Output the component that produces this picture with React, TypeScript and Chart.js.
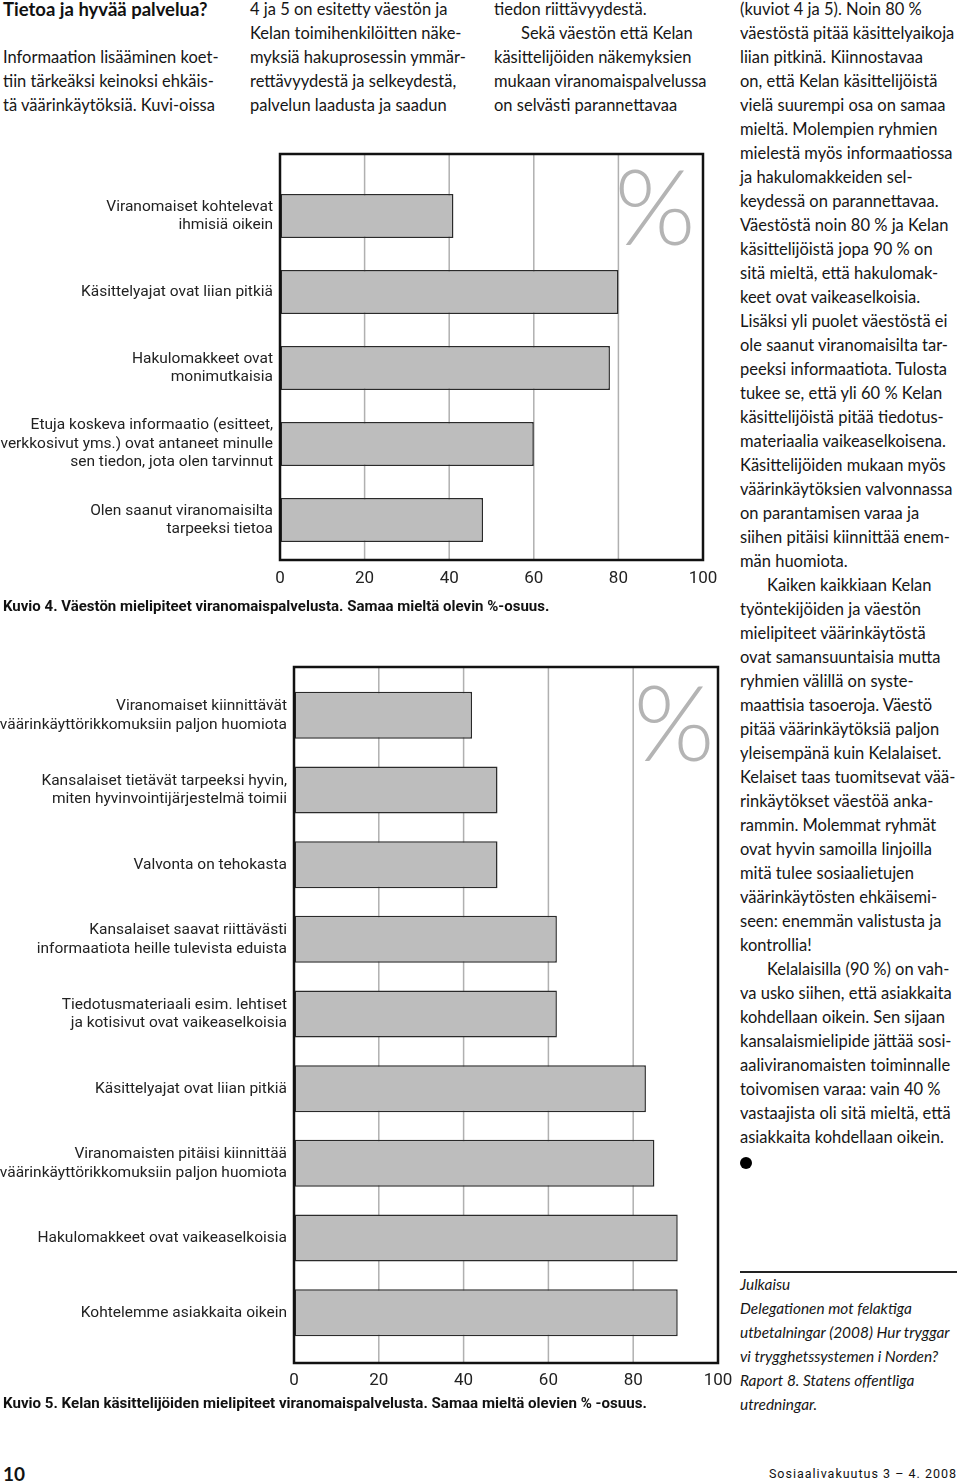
import React, { useEffect, useRef } from "react";
import { Chart, registerables } from "chart.js";

Chart.register(...registerables);

// ---------- DATA ----------
const kuvio4Labels: (string | string[])[] = [
  ["Viranomaiset kohtelevat", "ihmisiä oikein"],
  "Käsittelyajat ovat liian pitkiä",
  ["Hakulomakkeet ovat", "monimutkaisia"],
  ["Etuja koskeva informaatio (esitteet,", "verkkosivut yms.) ovat antaneet minulle", "sen tiedon, jota olen tarvinnut"],
  ["Olen saanut viranomaisilta", "tarpeeksi tietoa"],
];
const kuvio4Values = [41, 80, 78, 60, 48];

const kuvio5Labels: (string | string[])[] = [
  ["Viranomaiset kiinnittävät", "väärinkäyttörikkomuksiin paljon huomiota"],
  ["Kansalaiset tietävät tarpeeksi hyvin,", "miten hyvinvointijärjestelmä toimii"],
  "Valvonta on tehokasta",
  ["Kansalaiset saavat riittävästi", "informaatiota heille tulevista eduista"],
  ["Tiedotusmateriaali esim. lehtiset", "ja kotisivut ovat vaikeaselkoisia"],
  "Käsittelyajat ovat liian pitkiä",
  ["Viranomaisten pitäisi kiinnittää", "väärinkäyttörikkomuksiin paljon huomiota"],
  "Hakulomakkeet ovat vaikeaselkoisia",
  "Kohtelemme asiakkaita oikein",
];
const kuvio5Values = [42, 48, 48, 62, 62, 83, 85, 90.5, 90.5];

const axisMin = 0;
const axisMax = 100;
const axisStep = 20;

const kuvio4Caption = "Kuvio 4. Väestön mielipiteet viranomaispalvelusta. Samaa mieltä olevin %-osuus.";
const kuvio5Caption = "Kuvio 5. Kelan käsittelijöiden mielipiteet viranomaispalvelusta. Samaa mieltä olevien % -osuus.";

const col1Lines = ["Informaation lisääminen koet-", "tiin tärkeäksi keinoksi ehkäis-", "tä väärinkäytöksiä. Kuvi-oissa"];
const col2Lines = [
  "4 ja 5 on esitetty väestön ja",
  "Kelan toimihenkilöitten näke-",
  "myksiä hakuprosessin ymmär-",
  "rettävyydestä ja selkeydestä,",
  "palvelun laadusta ja saadun",
];
const col3Lines = [
  "tiedon riittävyydestä.",
  "\tSekä väestön että Kelan",
  "käsittelijöiden näkemyksien",
  "mukaan viranomaispalvelussa",
  "on selvästi parannettavaa",
];
const col4Lines = [
  "(kuviot 4 ja 5). Noin 80 %",
  "väestöstä pitää käsittelyaikoja",
  "liian pitkinä. Kiinnostavaa",
  "on, että Kelan käsittelijöistä",
  "vielä suurempi osa on samaa",
  "mieltä. Molempien ryhmien",
  "mielestä myös informaatiossa",
  "ja hakulomakkeiden sel-",
  "keydessä on parannettavaa.",
  "Väestöstä noin 80 % ja Kelan",
  "käsittelijöistä jopa 90 % on",
  "sitä mieltä, että hakulomak-",
  "keet ovat vaikeaselkoisia.",
  "Lisäksi yli puolet väestöstä ei",
  "ole saanut viranomaisilta tar-",
  "peeksi informaatiota. Tulosta",
  "tukee se, että yli 60 % Kelan",
  "käsittelijöistä pitää tiedotus-",
  "materiaalia vaikeaselkoisena.",
  "Käsittelijöiden mukaan myös",
  "väärinkäytöksien valvonnassa",
  "on parantamisen varaa ja",
  "siihen pitäisi kiinnittää enem-",
  "män huomiota.",
  "\tKaiken kaikkiaan Kelan",
  "työntekijöiden ja väestön",
  "mielipiteet väärinkäytöstä",
  "ovat samansuuntaisia mutta",
  "ryhmien välillä on syste-",
  "maattisia tasoeroja. Väestö",
  "pitää väärinkäytöksiä paljon",
  "yleisempänä kuin Kelalaiset.",
  "Kelaiset taas tuomitsevat vää-",
  "rinkäytökset väestöä anka-",
  "rammin. Molemmat ryhmät",
  "ovat hyvin samoilla linjoilla",
  "mitä tulee sosiaalietujen",
  "väärinkäytösten ehkäisemi-",
  "seen: enemmän valistusta ja",
  "kontrollia!",
  "\tKelalaisilla (90 %) on vah-",
  "va usko siihen, että asiakkaita",
  "kohdellaan oikein. Sen sijaan",
  "kansalaismielipide jättää sosi-",
  "aaliviranomaisten toiminnalle",
  "toivomisen varaa: vain 40 %",
  "vastaajista oli sitä mieltä, että",
  "asiakkaita kohdellaan oikein.",
];
const refLines = [
  "Julkaisu",
  "Delegationen mot felaktiga",
  "utbetalningar (2008) Hur tryggar",
  "vi trygghetssystemen i Norden?",
  "Raport 8. Statens offentliga",
  "utredningar.",
];

// ---------- STYLE ----------
const CHART_FONT = "'Liberation Sans Narrow', 'Roboto', sans-serif";
const BODY_FONT = "Lato, 'Noto Sans', sans-serif";

const framePlugin = {
  id: "frame",
  beforeDatasetsDraw(chart: any, _args: any, opts: any) {
    const { ctx, chartArea: a, scales } = chart;
    const x = scales.x;
    const top = a.top - opts.extendTop;
    const bottom = a.bottom + opts.extendBottom;
    ctx.save();
    ctx.fillStyle = "#b4b4b4";
    ctx.font = "300 104px Lato, sans-serif";
    ctx.textAlign = "center";
    ctx.textBaseline = "middle";
    ctx.fillText("%", a.right - opts.pctDx, a.top + opts.pctDy);
    ctx.strokeStyle = "#b0b0b0";
    ctx.lineWidth = 1.5;
    x.ticks.forEach((t: any) => {
      if (t.value <= x.min || t.value >= x.max) return;
      const px = x.getPixelForValue(t.value);
      ctx.beginPath();
      ctx.moveTo(px, top);
      ctx.lineTo(px, bottom);
      ctx.stroke();
    });
    ctx.restore();
  },
  afterDatasetsDraw(chart: any, _args: any, opts: any) {
    const { ctx, chartArea: a } = chart;
    const top = a.top - opts.extendTop;
    const bottom = a.bottom + opts.extendBottom;
    ctx.save();
    ctx.strokeStyle = "#111";
    ctx.lineWidth = 2.5;
    ctx.strokeRect(a.left, top, a.right - a.left, bottom - top);
    ctx.restore();
  },
};

type BarProps = {
  labels: (string | string[])[];
  values: number[];
  width: number;
  height: number;
  left: number;
  top: number;
  axisWidth: number;
  pad: { top: number; right: number; bottom: number };
  xAxisHeight: number;
  tickGap: number;
  barPct: number;
  extendTop: number;
  extendBottom: number;
  pctDx: number;
  pctDy: number;
};

function BarChart(p: BarProps) {
  const ref = useRef<HTMLCanvasElement | null>(null);
  useEffect(() => {
    if (!ref.current) return;
    const chart = new Chart(ref.current, {
      type: "bar",
      data: {
        labels: p.labels as any,
        datasets: [
          {
            data: p.values,
            backgroundColor: "#bdbdbd",
            borderColor: "#2a2a2a",
            borderWidth: 1.5,
            borderSkipped: false,
            categoryPercentage: 1,
            barPercentage: p.barPct,
          },
        ],
      },
      options: {
        indexAxis: "y",
        animation: false,
        responsive: false,
        layout: { padding: { left: 0, top: p.pad.top, right: p.pad.right, bottom: p.pad.bottom } },
        plugins: {
          legend: { display: false },
          tooltip: { enabled: false },
          frame: { extendTop: p.extendTop, extendBottom: p.extendBottom, pctDx: p.pctDx, pctDy: p.pctDy },
        } as any,
        scales: {
          x: {
            min: axisMin,
            max: axisMax,
            grid: {
              display: true,
              drawOnChartArea: false,
              drawTicks: true,
              tickLength: p.tickGap,
              tickColor: "rgba(0,0,0,0)",
            },
            border: { display: false },
            afterFit: (s: any) => {
              s.height = p.xAxisHeight;
            },
            ticks: {
              stepSize: axisStep,
              padding: 0,
              color: "#222",
              font: { family: CHART_FONT, size: 17 },
            },
          },
          y: {
            grid: { display: false, drawTicks: false },
            border: { display: false },
            afterFit: (s: any) => {
              s.width = p.axisWidth;
            },
            ticks: {
              autoSkip: false,
              padding: 7,
              color: "#222",
              font: { family: CHART_FONT, size: 15.5, lineHeight: 1.2 },
            },
          },
        },
      },
      plugins: [framePlugin],
    });
    return () => chart.destroy();
  }, []);
  return (
    <canvas
      ref={ref}
      width={p.width}
      height={p.height}
      style={{ position: "absolute", left: p.left, top: p.top, width: p.width, height: p.height }}
    />
  );
}

function Lines({ lines, left, top, width, style }: { lines: string[]; left: number; top: number; width: number; style?: any }) {
  return (
    <div style={{ position: "absolute", left, top, width, lineHeight: "24px", ...style }}>
      {lines.map((l, i) => (
        <div key={i} style={{ whiteSpace: "nowrap", paddingLeft: l.startsWith("\t") ? 27 : 0, height: 24 }}>
          {l.replace("\t", "")}
        </div>
      ))}
    </div>
  );
}

export default function App() {
  const body = { fontFamily: BODY_FONT, fontSize: 16.5, color: "#161616" };
  return (
    <div style={{ position: "absolute", left: 0, top: 0, width: 960, height: 1484, background: "#fff", overflow: "hidden" }}>
      <div style={{ position: "absolute", left: 3, top: -3, lineHeight: "24px", fontFamily: BODY_FONT, fontWeight: 700, fontSize: 18.5, color: "#111", whiteSpace: "nowrap" }}>
        Tietoa ja hyvää palvelua?
      </div>
      <Lines lines={col1Lines} left={3} top={45} width={230} style={body} />
      <Lines lines={col2Lines} left={250} top={-3} width={230} style={body} />
      <Lines lines={col3Lines} left={494} top={-3} width={230} style={body} />
      <Lines lines={col4Lines} left={740} top={-3} width={220} style={body} />
      <div style={{ position: "absolute", left: 740, top: 1157, width: 12, height: 12, borderRadius: 6, background: "#000" }} />
      <div style={{ position: "absolute", left: 740, top: 1271, width: 217, height: 1.5, background: "#222" }} />
      <Lines lines={refLines} left={740} top={1272} width={220} style={{ ...body, fontSize: 15.4, fontStyle: "italic" }} />

      <BarChart
        labels={kuvio4Labels}
        values={kuvio4Values}
        width={720}
        height={470}
        left={0}
        top={130}
        axisWidth={280}
        pad={{ top: 48, right: 17, bottom: 12 }}
        xAxisHeight={30}
        tickGap={11}
        barPct={0.58}
        extendTop={24}
        extendBottom={2}
        pctDx={48}
        pctDy={33}
      />
      <div style={{ position: "absolute", left: 3, top: 596, lineHeight: "20px", fontFamily: CHART_FONT, fontWeight: 700, fontSize: 15, color: "#111", whiteSpace: "nowrap" }}>
        {kuvio4Caption}
      </div>

      <BarChart
        labels={kuvio5Labels}
        values={kuvio5Values}
        width={740}
        height={770}
        left={0}
        top={640}
        axisWidth={294}
        pad={{ top: 38, right: 22, bottom: 15 }}
        xAxisHeight={45}
        tickGap={21}
        barPct={0.63}
        extendTop={11}
        extendBottom={13}
        pctDx={44}
        pctDy={49}
      />
      <div style={{ position: "absolute", left: 3, top: 1393, lineHeight: "20px", fontFamily: CHART_FONT, fontWeight: 700, fontSize: 15.1, color: "#111", whiteSpace: "nowrap" }}>
        {kuvio5Caption}
      </div>

      <div style={{ position: "absolute", left: 3, top: 1463, lineHeight: "22px", fontFamily: BODY_FONT, fontWeight: 700, fontSize: 19, color: "#111" }}>10</div>
      <div style={{ position: "absolute", right: 3, top: 1464, lineHeight: "20px", fontFamily: CHART_FONT, fontSize: 12.5, letterSpacing: 1, color: "#111", whiteSpace: "nowrap" }}>
        Sosiaalivakuutus 3 – 4. 2008
      </div>
    </div>
  );
}
